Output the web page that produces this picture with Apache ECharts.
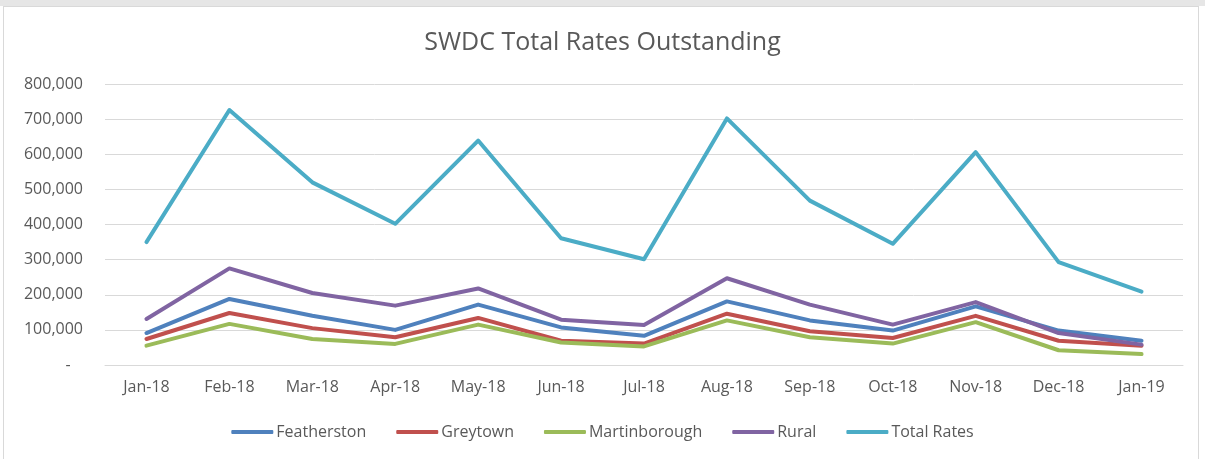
<!DOCTYPE html>
<html>
<head>
<meta charset="utf-8">
<script src="https://cdn.jsdelivr.net/npm/echarts@6/dist/echarts.min.js"></script>
<style>
  html, body { margin: 0; padding: 0; background: #fff; }
  .wrap { position: absolute; left: 0; top: 0; width: 1205px; height: 459px; background: #fff; }
  .frame { position: absolute; left: 3px; top: 6px; width: 1196px; height: 460px; border: 1px solid #d9d9d9; border-bottom: none; box-sizing: border-box; }
  .topband { position: absolute; left: 0; top: 0; width: 1205px; height: 6px; background: #e6e6e6; }
  #chart { position: absolute; left: 0; top: 0; width: 1205px; height: 459px; }
</style>
</head>
<body>
<div class="wrap">
  <div class="topband"></div>
  <div class="frame"></div>
  <div id="chart"></div>
</div>
<script>
// SWDC rates outstanding, monthly
var months = ['Jan-18', 'Feb-18', 'Mar-18', 'Apr-18', 'May-18', 'Jun-18', 'Jul-18',
              'Aug-18', 'Sep-18', 'Oct-18', 'Nov-18', 'Dec-18', 'Jan-19'];

var featherston   = [91000, 188000, 140000, 100000, 172000, 107000, 83000, 181000, 127000, 98000, 167000, 98000, 69000];
var greytown      = [74000, 148000, 105000, 79000, 134000, 69000, 61000, 146000, 96000, 77000, 140000, 69000, 55000];
var martinborough = [55000, 117000, 74000, 60000, 115000, 64000, 53000, 127000, 79000, 61000, 122000, 42000, 31000];
var rural         = [131000, 275000, 205000, 169000, 218000, 129000, 114000, 247000, 172000, 115000, 179000, 91000, 58000];
var totalRates    = [350000, 726000, 520000, 402000, 639000, 361000, 301000, 702000, 468000, 345000, 606000, 293000, 209000];

(function() {
    var myChart = echarts.init(document.getElementById('chart'));
    var font = '"Open Sans", sans-serif';
    var grey = '#595959';

    function line(name, data, color) {
        return {
            name: name,
            type: 'line',
            data: data,
            symbol: 'none',
            lineStyle: { width: 4, color: color, cap: 'round', join: 'round' },
            itemStyle: { color: color },
            animation: false
        };
    }

    var option = {
        backgroundColor: 'transparent',
        title: {
            text: 'SWDC Total Rates Outstanding',
            left: 'center',
            top: 25,
            textStyle: { fontFamily: font, fontSize: 25, fontWeight: 'normal', color: grey }
        },
        grid: { left: 105, right: 22, top: 84, bottom: 94 },
        legend: {
            bottom: 14,
            left: 'center',
            icon: 'roundRect',
            itemWidth: 42,
            itemHeight: 4,
            itemGap: 30,
            textStyle: { fontFamily: font, fontSize: 16, color: grey, padding: [0, 0, 0, -2] },
            data: ['Featherston', 'Greytown', 'Martinborough', 'Rural', 'Total Rates']
        },
        xAxis: {
            type: 'category',
            data: months,
            boundaryGap: true,
            axisLine: { show: true, lineStyle: { color: '#d9d9d9', width: 1 } },
            axisTick: { show: false },
            axisLabel: { fontFamily: font, fontSize: 16, color: grey, margin: 14 }
        },
        yAxis: {
            type: 'value',
            min: 0,
            max: 800000,
            interval: 100000,
            axisLine: { show: false },
            axisTick: { show: false },
            splitLine: { lineStyle: { color: '#d9d9d9', width: 1 } },
            axisLabel: {
                fontFamily: font, fontSize: 16, color: grey, margin: 22,
                formatter: function(v) {
                    if (v === 0) return '-   ';
                    return v.toString().replace(/\B(?=(\d{3})+(?!\d))/g, ',');
                }
            }
        },
        series: [
            line('Featherston', featherston, '#4F81BD'),
            line('Greytown', greytown, '#C0504D'),
            line('Martinborough', martinborough, '#9BBB59'),
            line('Rural', rural, '#8064A2'),
            line('Total Rates', totalRates, '#4BACC6')
        ]
    };

    myChart.setOption(option);
    window.addEventListener('resize', function() {
        myChart.resize();
    });
})();
</script>
</body>
</html>
